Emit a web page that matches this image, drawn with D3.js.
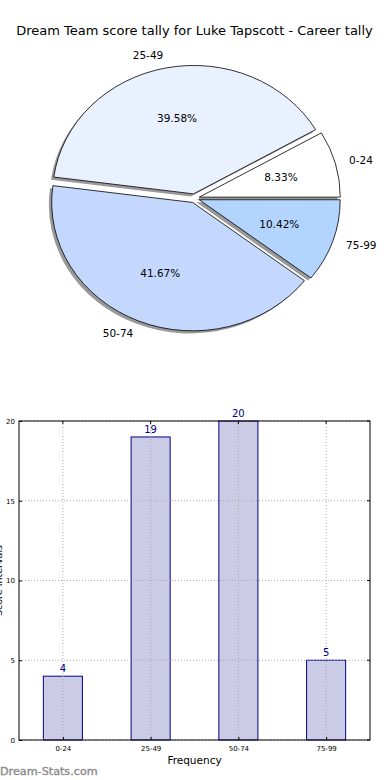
<!DOCTYPE html>
<html><head><meta charset="utf-8">
<script src="https://cdn.jsdelivr.net/npm/d3@7"></script>
<style>
html,body{margin:0;padding:0;background:#fff;}
svg{display:block;font-family:"DejaVu Sans",sans-serif;}
</style></head>
<body>
<svg id="c" width="390" height="780"></svg>
<script>
const title = "Dream Team score tally for Luke Tapscott - Career tally";
const categories = ["0-24", "25-49", "50-74", "75-99"];
const values = [4, 19, 20, 5];
const pieColors = ["#ffffff", "#e9f0fe", "#c4d8fe", "#b3d4fe"];
const yTicks = [0, 5, 10, 15, 20];
const xLabel = "Frequency";
const yLabel = "Score Intervals";
const watermark = "Dream-Stats.com";

const svg = d3.select("#c");

// Title
svg.append("text").attr("x", 194.5).attr("y", 34.5).attr("text-anchor", "middle")
  .attr("font-size", 13).attr("fill", "#000").text(title);

// ---------- PIE ----------
const cx = 194.5, cy = 198.3, rx = 141, ry = 128.5, explode = 0.035;
const total = d3.sum(values);
const pie = d3.pie().sort(null).startAngle(Math.PI / 2).endAngle(Math.PI / 2 - 2 * Math.PI);
const arcs = pie(values);
const arcGen = d3.arc().innerRadius(0).outerRadius(1);

const pg = svg.append("g").attr("transform", `translate(${cx},${cy}) scale(${rx},${ry})`);
function offs(d) {
  const a = (d.startAngle + d.endAngle) / 2;
  return [Math.sin(a) * explode, -Math.cos(a) * explode];
}
// shadows
pg.selectAll("path.sh").data(arcs).join("path").attr("class", "sh")
  .attr("d", arcGen)
  .attr("transform", d => { const o = offs(d); return `translate(${o[0] - 0.02},${o[1] + 0.02})`; })
  .attr("fill", "#555").attr("fill-opacity", 0.6);
// wedges
pg.selectAll("path.w").data(arcs).join("path").attr("class", "w")
  .attr("d", arcGen)
  .attr("transform", d => { const o = offs(d); return `translate(${o[0]},${o[1]})`; })
  .attr("fill", (d, i) => pieColors[i])
  .attr("stroke", "#000").attr("stroke-width", 0.8)
  .attr("vector-effect", "non-scaling-stroke");

// labels
arcs.forEach((d, i) => {
  const a = (d.startAngle + d.endAngle) / 2;
  const o = offs(d);
  const ux = Math.sin(a), uy = -Math.cos(a);
  const lx = cx + (1.1 * ux + o[0]) * rx, ly = cy + (1.1 * uy + o[1]) * ry;
  svg.append("text").attr("x", lx).attr("y", ly).attr("dy", "0.35em")
    .attr("text-anchor", ux < 0 ? "end" : "start")
    .attr("font-size", 10.5).attr("fill", "#000").text(categories[i]);
  const px = cx + (0.6 * ux + o[0]) * rx, py = cy + (0.6 * uy + o[1]) * ry;
  svg.append("text").attr("x", px).attr("y", py).attr("dy", "0.35em")
    .attr("text-anchor", "middle")
    .attr("font-size", 10.5).attr("fill", "#000")
    .text((values[i] / total * 100).toFixed(2) + "%");
});

// ---------- BAR ----------
const bLeft = 19, bRight = 370, bTop = 421, bBottom = 740;
const x = d3.scaleLinear().domain([-0.5, categories.length - 0.5]).range([bLeft, bRight]);
const y = d3.scaleLinear().domain([0, 20]).range([bBottom, bTop]);
const bw = 0.445;
const bg = svg.append("g");

bg.selectAll("rect.bar").data(values).join("rect").attr("class", "bar")
  .attr("x", (d, i) => x(i - bw / 2)).attr("width", x(bw) - x(0))
  .attr("y", d => y(d)).attr("height", d => y(0) - y(d))
  .attr("fill", "#cbcbe5").attr("stroke", "#00008b").attr("stroke-width", 1);

// grid
bg.selectAll("line.gx").data(categories).join("line").attr("class", "gx")
  .attr("x1", (d, i) => x(i)).attr("x2", (d, i) => x(i))
  .attr("y1", bTop).attr("y2", bBottom)
  .attr("stroke", "#aaa").attr("stroke-width", 1).attr("stroke-dasharray", "1,2");
bg.selectAll("line.gy").data(yTicks).join("line").attr("class", "gy")
  .attr("x1", bLeft).attr("x2", bRight).attr("y1", d => y(d)).attr("y2", d => y(d))
  .attr("stroke", "#aaa").attr("stroke-width", 1).attr("stroke-dasharray", "1,2");

// value labels
bg.selectAll("text.v").data(values).join("text").attr("class", "v")
  .attr("x", (d, i) => x(i)).attr("y", d => y(d) - 4)
  .attr("text-anchor", "middle").attr("font-size", 10).attr("fill", "#00008b")
  .text(d => d);

// axes
const ya = d3.axisLeft(y).tickValues(yTicks).tickSize(-3).tickPadding(4).tickFormat(d3.format("d"));
const yg = bg.append("g").attr("transform", `translate(${bLeft},0)`).call(ya);
const xa = d3.axisBottom(x).tickValues(d3.range(categories.length)).tickSize(-3).tickPadding(6)
  .tickFormat(i => categories[i]);
const xg = bg.append("g").attr("transform", `translate(0,${bBottom})`).call(xa);
[yg, xg].forEach(g => {
  g.select(".domain").remove();
  g.selectAll("text").attr("font-size", 7).attr("font-family", "DejaVu Sans").attr("fill", "#000");
  g.selectAll("line").attr("stroke", "#000");
});
// right/top ticks
bg.selectAll("line.rt").data(yTicks).join("line").attr("class", "rt")
  .attr("x1", bRight).attr("x2", bRight - 3).attr("y1", d => y(d)).attr("y2", d => y(d)).attr("stroke", "#000");
bg.selectAll("line.tt").data(categories).join("line").attr("class", "tt")
  .attr("x1", (d, i) => x(i)).attr("x2", (d, i) => x(i)).attr("y1", bTop).attr("y2", bTop + 3).attr("stroke", "#000");

bg.append("rect").attr("x", bLeft).attr("y", bTop).attr("width", bRight - bLeft).attr("height", bBottom - bTop)
  .attr("fill", "none").attr("stroke", "#000").attr("stroke-width", 1);

svg.append("text").attr("x", (bLeft + bRight) / 2).attr("y", 764).attr("text-anchor", "middle")
  .attr("font-size", 10.5).attr("fill", "#000").text(xLabel);
svg.append("text").attr("transform", `translate(2,${(bTop + bBottom) / 2}) rotate(-90)`)
  .attr("text-anchor", "middle").attr("font-size", 9.5).attr("fill", "#000").text(yLabel);

svg.append("text").attr("x", 0).attr("y", 775).attr("font-size", 11.2)
  .attr("fill", "#8a8a8a").attr("stroke", "#8a8a8a").attr("stroke-width", 0.35).text(watermark);
</script>
</body></html>
